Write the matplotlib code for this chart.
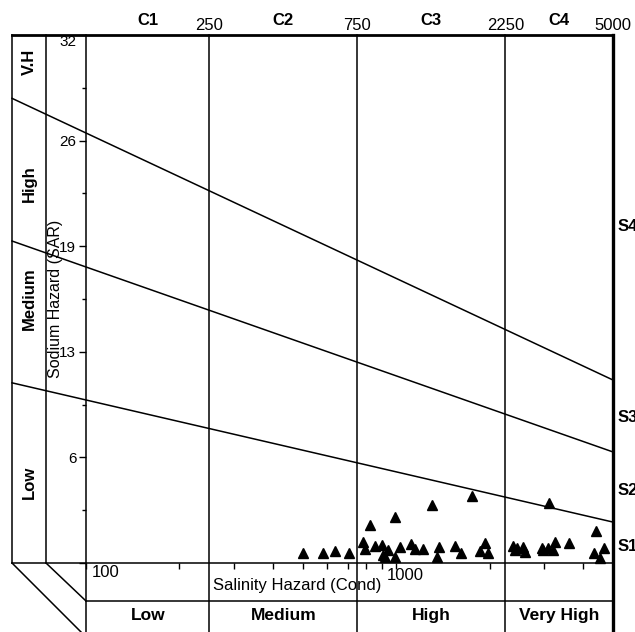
import matplotlib
matplotlib.use("Agg")
import matplotlib.pyplot as plt
import matplotlib.transforms as mtransforms
from matplotlib.lines import Line2D
import numpy as np

plt.rcParams['font.family'] = ['Liberation Sans', 'DejaVu Sans']

# --- data ---
# salinity class boundaries (uS/cm) and class names
cond_bounds = [100, 250, 750, 2250, 5000]
cond_classes = ["C1", "C2", "C3", "C4"]
cond_hazard = ["Low", "Medium", "High", "Very High"]
cond_top_labels = ["250", "750", "2250", "5000"]

# SAR ticks
sar_ticks = [0, 6.4, 12.8, 19.2, 25.6, 32]
sar_tick_labels = ["", "6", "13", "19", "26", "32"]

# sodium class boundary lines: SAR at EC=100 and at EC=5000
boundary_sar_100 = [26.06, 17.94, 9.88]
boundary_sar_5000 = [11.09, 6.73, 2.48]

sodium_hazard = ["V.H", "High", "Medium", "Low"]
sodium_hazard_sar = [30.4, 23.0, 16.0, 4.9]
sodium_classes = ["S4", "S3", "S2", "S1"]
sodium_class_sar = [20.4, 8.8, 4.4, 0.97]

# samples
cond = [501, 581, 636, 705, 824, 993, 1306, 1758, 783, 794, 856, 901, 908, 942,
        922, 993, 1030, 1117, 1151, 1222, 1356, 1376, 1550, 1621, 1866, 1937,
        1981, 2385, 2421, 2456, 2568, 2600, 2958, 2980, 3093, 3260, 3210, 3614,
        3117, 4418, 4355, 4688, 4550]
sar = [0.61, 0.61, 0.73, 0.61, 2.30, 2.79, 3.52, 4.06, 1.27, 0.85, 1.03, 1.09,
       0.48, 0.79, 0.36, 0.36, 0.97, 1.15, 0.85, 0.85, 0.36, 0.97, 1.03, 0.61,
       0.73, 1.21, 0.61, 1.03, 0.79, 0.91, 0.97, 0.67, 0.91, 0.79, 0.91, 1.27,
       0.79, 1.21, 3.64, 1.94, 0.61, 0.91, 0.30]

W, H = 635, 632
fig = plt.figure(figsize=(W / 100, H / 100), dpi=100)
ax = fig.add_axes([86 / W, 1 - 563 / H, (613 - 86) / W, (563 - 35) / H])
ax.set_xscale("log")
ax.set_xlim(cond_bounds[0], cond_bounds[-1])
ax.set_ylim(0, 32)
for s in ax.spines.values():
    s.set_visible(False)


def fline(xs, ys, lw=1.1):
    fig.add_artist(Line2D([x / W for x in xs], [1 - y / H for y in ys],
                          color="black", lw=lw, solid_capstyle="projecting"))


# frame of the diagram (pixel layout)
fline([12, 613], [35, 35], 2.0)
fline([613, 613], [35, 632], 2.4)
fline([12, 12], [35, 563])
fline([46, 46], [35, 563])
fline([86, 86], [35, 632])
fline([12, 613], [563, 563])
fline([86, 613], [601, 601])
fline([12, 81], [563, 632])
fline([46, 86], [563, 601])

bx = mtransforms.blended_transform_factory(ax.transData, ax.transAxes)
by = mtransforms.blended_transform_factory(ax.transAxes, ax.transData)

# vertical class boundaries
for c in cond_bounds[1:-1]:
    ax.plot([c, c], [-0.131, 1], transform=bx, color="black", lw=1.1, clip_on=False)

# sloping sodium boundaries, extended into the left label columns
left = (12 - 86) / 527
for s0, s1 in zip(boundary_sar_100, boundary_sar_5000):
    ax.plot([left, 1], [s0 + (s1 - s0) * left, s1], transform=by,
            color="black", lw=1.1, clip_on=False)

# samples
ax.plot(cond, sar, linestyle="none", marker="^", color="black", ms=7, clip_on=False)

# ticks
ax.set_yticks(sar_ticks, sar_tick_labels)
ax.set_yticks(np.array(sar_ticks[:-1]) + 3.2, minor=True)
ax.tick_params(axis="y", which="major", direction="out", length=5, width=1, pad=2, labelsize=11)
ax.tick_params(axis="y", which="minor", direction="out", length=3, width=1)
ax.get_yticklabels()[-1].set_va("top")
ax.set_xticks([100, 1000], ["", ""])
ax.tick_params(axis="x", which="both", direction="out", length=4, width=1)
ax.tick_params(axis="x", which="minor", labelbottom=False)

ax.annotate("100", xy=(100, 0), xycoords=("data", "axes fraction"), xytext=(6, -2),
            textcoords="offset pixels", ha="left", va="top", fontsize=12)
ax.annotate("1000", xy=(1000, 0), xycoords=("data", "axes fraction"), xytext=(-9, -5),
            textcoords="offset pixels", ha="left", va="top", fontsize=12)

ax.text(0.40, -0.042, "Salinity Hazard (Cond)", transform=ax.transAxes,
        ha="center", va="center", fontsize=12)
ax.text(-0.0588, 16, "Sodium Hazard (SAR)", transform=by, rotation=90,
        ha="center", va="center", fontsize=11.5)

# class labels top and bottom
for i in range(4):
    mid = np.sqrt(cond_bounds[i] * cond_bounds[i + 1])
    ax.text(mid, 1.013, cond_classes[i], transform=bx, ha="center", va="bottom",
            fontsize=12, fontweight="bold")
    ax.text(mid, -0.0985, cond_hazard[i], transform=bx, ha="center", va="center",
            fontsize=12.5, fontweight="bold")
    ax.text(cond_bounds[i + 1], 1.003, cond_top_labels[i], transform=bx,
            ha="center", va="bottom", fontsize=12)

for lab, y in zip(sodium_hazard, sodium_hazard_sar):
    ax.text(-0.108, y, lab, transform=by, rotation=90, ha="center", va="center",
            fontsize=12, fontweight="bold")
for lab, y in zip(sodium_classes, sodium_class_sar):
    ax.text(1.008, y, lab, transform=by, ha="left", va="center",
            fontsize=12, fontweight="bold")

fig.savefig("out.png", dpi=100)
